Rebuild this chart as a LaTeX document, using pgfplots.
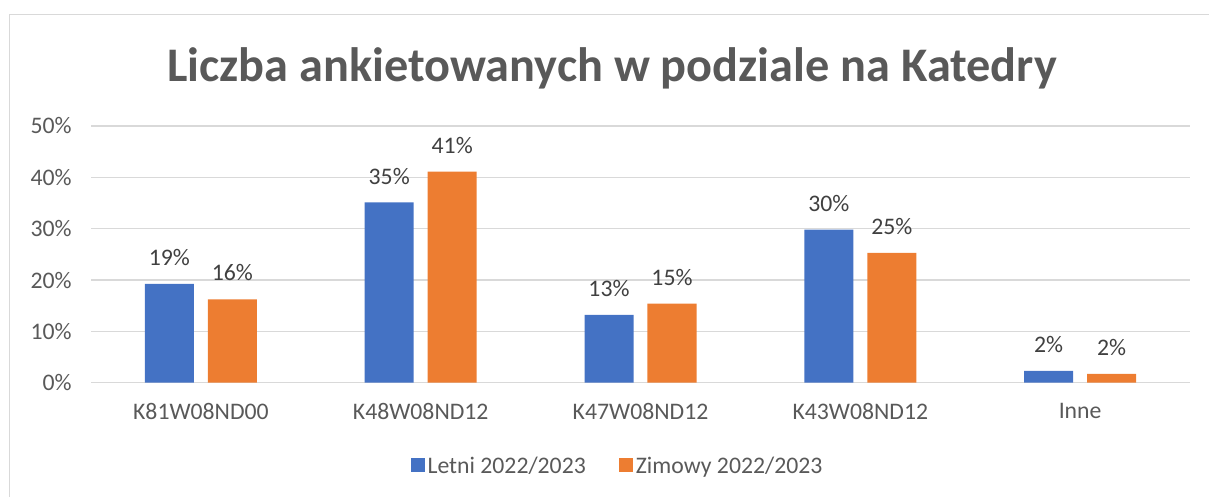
\documentclass[border=0pt]{standalone}
\usepackage{fontspec}
\setmainfont{Carlito}
\usepackage{pgfplots}
\pgfplotsset{compat=1.18}

\definecolor{xlblue}{HTML}{4472C4}
\definecolor{xlorange}{HTML}{ED7D31}
\definecolor{xltext}{HTML}{595959}
\definecolor{xllabel}{HTML}{404040}
\definecolor{xlgrid}{HTML}{D9D9D9}

\pgfplotstableread{
x letni zimowy
0 19.25 16.25
1 35.1 41.1
2 13.2 15.4
3 29.8 25.3
4 2.3 1.7
}\ankiety

\begin{document}
\begin{tikzpicture}
\useasboundingbox (-68.25pt,-85.7pt) rectangle (838.5pt,287pt);
% chart frame (only top and left edges visible)
\draw[xlgrid, line width=1.3pt] (-61.1pt,-90pt) -- (-61.1pt,276.2pt) -- (845pt,276.2pt);
\node[anchor=base, text=xltext, font=\fontsize{36.2}{43}\selectfont\bfseries]
  at (390.75pt,225.5pt) {Liczba ankietowanych w podziale na Katedry};
\begin{axis}[
    at={(0pt,0pt)}, anchor=south west,
    scale only axis,
    width=824.25pt, height=192.5pt,
    ybar,
    bar width=0.223,
    xmin=-0.5, xmax=4.5,
    ymin=0, ymax=50,
    enlargelimits=false,
    xtick={0,...,4},
    xticklabels={K81W08ND00,K48W08ND12,K47W08ND12,K43W08ND12,Inne},
    ytick={0,10,...,50},
    yticklabels={0\%,10\%,20\%,30\%,40\%,50\%},
    ymajorgrids,
    grid style={xlgrid, line width=0.9pt},
    axis line style={draw=none},
    tick style={draw=none},
    tick label style={text=xltext, font=\fontsize{17.8}{21}\selectfont},
    y tick label style={xshift=-11pt},
    x tick label style={yshift=-7.5pt},
    /pgf/number format/assume math mode=true,
    nodes near coords={\pgfmathprintnumber[fixed,precision=0]{\pgfplotspointmeta}\%},
    nodes near coords style={anchor=base, yshift=13.7pt, text=xllabel, font=\fontsize{17.8}{21}\selectfont},
    legend style={draw=none, fill=none, at={(0.4795,-0.3245)}, anchor=center,
      legend columns=2, font=\fontsize{17.8}{21}\selectfont, text=xltext,
      /tikz/every even column/.append style={column sep=23pt}},
    legend image code/.code={\fill[#1] (0pt,-4.2pt) rectangle (10.5pt,6.3pt);},
]
\addplot[fill=xlblue, draw=none, bar shift=-0.1433] table[x=x, y=letni] {\ankiety};
\addplot[fill=xlorange, draw=none, bar shift=0.1433] table[x=x, y=zimowy] {\ankiety};
\legend{Letni 2022/2023, Zimowy 2022/2023}
\end{axis}
\end{tikzpicture}
\end{document}
